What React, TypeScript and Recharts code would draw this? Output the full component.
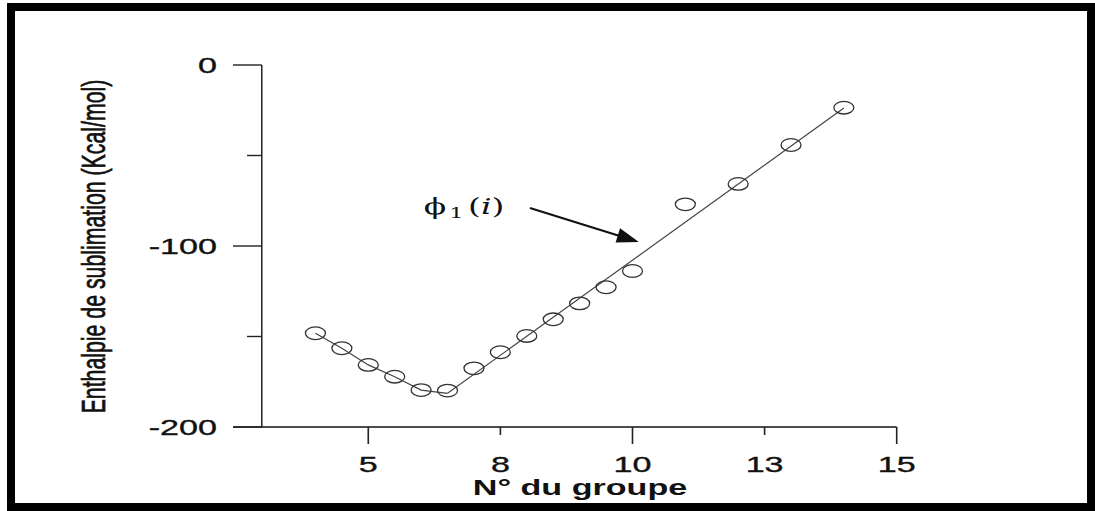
import React from 'react';
import { ComposedChart, Scatter, XAxis, YAxis, ReferenceLine, ReferenceDot } from 'recharts';

// Horizontal position of each point (in axis steps, tick "5" = 0, tick "15" = 20)
const groupPositions = [-2, -1, 0, 1, 2, 3, 4, 5, 6, 7, 8, 9, 10, 12, 14, 16, 18];
// Enthalpie de sublimation (Kcal/mol)
const enthalpyValues = [-148.2, -156.5, -165.7, -172.2, -179.6, -179.9, -167.6, -158.7, -149.7, -140.5, -131.7, -122.8, -113.8, -77.0, -65.7, -44.2, -23.6];

// Fitted lines
const leftFitX = [-2, -1, 0, 1, 2, 3];
const leftFitY = [-148.2, -156.5, -165.7, -172.2, -179.6, -181.4];
const rightFitX = [3, 18];
const rightFitY = [-181.4, -23.8];

// Axis ticks
const xTickPositions = [0, 5, 10, 15, 20];
const xTickLabels = ['5', '8', '10', '13', '15'];
const xTickMajor = [true, false, true, false, true];
const yTickValues = [0, -50, -100, -150, -200];
const yTickLabels = ['0', '', '-100', '', '-200'];

// Annotation
const annotationText = { x: 2.1, y: -78.5 };
const arrowFrom = { x: 6.12, y: -79 };
const arrowTo = { x: 10.24, y: -97.8 };
const yAxisLineX = -4.03;

const points = groupPositions.map((x, i) => ({ x, y: enthalpyValues[i] }));
const leftFit = leftFitX.map((x, i) => ({ x, y: leftFitY[i] }));
const rightFit = rightFitX.map((x, i) => ({ x, y: rightFitY[i] }));

const FONT = '"Liberation Sans", Arial, sans-serif';
const STRETCH = 1.55;

const XTick = (props: any) => {
  const { x, y, payload } = props;
  const idx = xTickPositions.indexOf(payload.value);
  const major = xTickMajor[idx];
  return (
    <g transform={`translate(${x},${y})`}>
      <line x1={0} y1={0} x2={0} y2={major ? 17 : 8} stroke="#222" strokeWidth={1.6} />
      <g transform={`translate(0,45) scale(${STRETCH},1)`}>
        <text x={0} y={0} textAnchor="middle" fontFamily={FONT} fontSize={22} fill="#111" stroke="#111" strokeWidth={0.35}>
          {xTickLabels[idx]}
        </text>
      </g>
    </g>
  );
};

const YTick = (props: any) => {
  const { x, y, payload } = props;
  const idx = yTickValues.indexOf(payload.value);
  const label = yTickLabels[idx];
  const major = label !== '';
  return (
    <g transform={`translate(${x},${y})`}>
      <line x1={major ? 0 : 14} y1={0} x2={28.7} y2={0} stroke="#222" strokeWidth={1.4} />
      {major && (
        <g transform={`translate(-16,0) scale(${STRETCH},1)`}>
          <text x={0} y={0} dy="0.36em" textAnchor="end" fontFamily={FONT} fontSize={22} fill="#111" stroke="#111" strokeWidth={0.35}>
            {label}
          </text>
        </g>
      )}
    </g>
  );
};

const YTitle = () => (
  <g transform={`translate(93,246.5) scale(${STRETCH},1) rotate(-90)`}>
    <text x={0} y={0} dy="0.36em" textAnchor="middle" fontFamily={FONT} fontSize={21.3} fill="#111" stroke="#111" strokeWidth={0.45}>
      Enthalpie de sublimation (Kcal/mol)
    </text>
  </g>
);

const XTitle = () => (
  <g transform={`translate(580,495) scale(${STRETCH},1)`}>
    <text x={0} y={0} textAnchor="middle" fontFamily={FONT} fontWeight="bold" fontSize={22} fill="#111">
      N° du groupe
    </text>
  </g>
);

const PointShape = (props: any) => {
  const { cx, cy } = props;
  return <ellipse cx={cx} cy={cy} rx={10} ry={6.3} fill="none" stroke="#333" strokeWidth={1.3} />;
};

const NoShape = () => <g />;

const ArrowShape = (props: any) => {
  const { x1, y1, x2, y2 } = props;
  const dx = x2 - x1;
  const dy = y2 - y1;
  const len = Math.sqrt(dx * dx + dy * dy);
  const ux = dx / len;
  const uy = dy / len;
  const headLen = 22;
  const halfW = 7.5;
  const bx = x2 - ux * headLen;
  const by = y2 - uy * headLen;
  const px = -uy;
  const py = ux;
  return (
    <g>
      <line x1={x1} y1={y1} x2={bx + ux * 2} y2={by + uy * 2} stroke="#111" strokeWidth={2.2} />
      <polygon
        points={`${x2},${y2} ${bx + px * halfW},${by + py * halfW} ${bx - px * halfW},${by - py * halfW}`}
        fill="#111"
      />
    </g>
  );
};

const PhiLabel = (props: any) => {
  const { cx, cy } = props;
  return (
    <g transform={`translate(${cx},${cy}) scale(1.5,1)`}>
      <text x={0} y={0} dy="0.33em" fontFamily='"DejaVu Serif", "Liberation Serif", serif' fontSize={22} fill="#111">
        <tspan>ϕ</tspan>
        <tspan fontSize={15} dy={4} dx={2}>1</tspan>
        <tspan dy={-4} dx={3}>(</tspan>
        <tspan fontStyle="italic">i</tspan>
        <tspan>)</tspan>
      </text>
    </g>
  );
};

export default function App() {
  return (
    <div style={{ position: 'absolute', left: 0, top: 0, width: 1095, height: 511, background: '#fff', overflow: 'hidden' }}>
      <div style={{ position: 'absolute', left: 0, top: 0 }}>
        <ComposedChart
          width={1095}
          height={511}
          margin={{ top: 65, right: 198.3, bottom: 83, left: 232 }}
          style={{ overflow: 'visible' }}
        >
          <XAxis
            type="number"
            dataKey="x"
            domain={[-5.12, 20]}
            ticks={xTickPositions}
            tick={<XTick />}
            tickLine={false}
            tickSize={0}
            tickMargin={0}
            height={1}
            axisLine={{ stroke: '#111', strokeWidth: 1.4 }}
            allowDataOverflow
            interval={0}
            label={{ content: <XTitle /> }}
          />
          <YAxis
            type="number"
            dataKey="y"
            domain={[-200, 0]}
            ticks={yTickValues}
            tick={<YTick />}
            tickLine={false}
            tickSize={0}
            tickMargin={0}
            width={1}
            axisLine={false}
            allowDataOverflow
            interval={0}
            label={{ content: <YTitle /> }}
          />
          <ReferenceLine
            segment={[{ x: yAxisLineX, y: -200 }, { x: yAxisLineX, y: 0 }]}
            stroke="#111"
            strokeWidth={1.4}
          />
          <Scatter
            data={leftFit}
            line={{ stroke: '#444', strokeWidth: 1.2 }}
            lineType="joint"
            shape={<NoShape />}
            isAnimationActive={false}
          />
          <Scatter
            data={rightFit}
            line={{ stroke: '#444', strokeWidth: 1.2 }}
            lineType="joint"
            shape={<NoShape />}
            isAnimationActive={false}
          />
          <Scatter data={points} shape={<PointShape />} isAnimationActive={false} />
          <ReferenceLine
            segment={[arrowFrom, arrowTo]}
            shape={<ArrowShape />}
          />
          <ReferenceDot
            x={annotationText.x}
            y={annotationText.y}
            r={0}
            shape={<PhiLabel />}
          />
        </ComposedChart>
      </div>
      <div
        style={{
          position: 'absolute',
          left: 7,
          top: 3,
          width: 1088,
          height: 508,
          border: '8px solid #000',
          boxSizing: 'border-box',
          pointerEvents: 'none',
        }}
      />
    </div>
  );
}
